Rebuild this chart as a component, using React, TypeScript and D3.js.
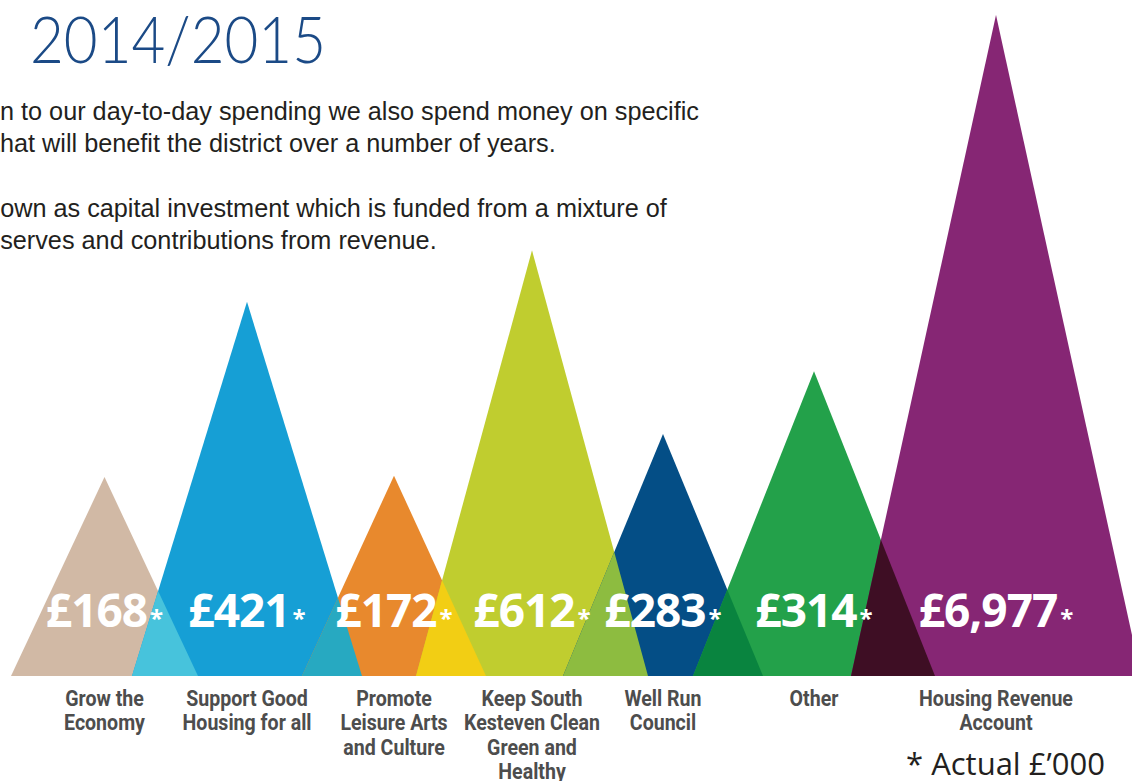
import React, { useEffect, useRef } from 'react';
import * as d3 from 'd3';

// category labels (one entry per line)
const categories = [
  ['Grow the', 'Economy'],
  ['Support Good', 'Housing for all'],
  ['Promote', 'Leisure Arts', 'and Culture'],
  ['Keep South', 'Kesteven Clean', 'Green and', 'Healthy'],
  ['Well Run', 'Council'],
  ['Other'],
  ['Housing Revenue', 'Account'],
];
// capital spend, actual £'000
const values = [168, 421, 172, 612, 283, 314, 6977];
// drawn peak height of each triangle, % of the tallest
const peakHeights = [30.1, 56.6, 30.3, 64.4, 36.6, 46.1, 100];
// base width of each triangle and how much neighbours overlap (chart units)
const baseWidths = [187, 230, 184, 232, 200, 242, 290];
const overlaps = [66, 60, 70, 85, 70, 84];

const introParas = [
  [
    'In addition to our day-to-day spending we also spend money on specific',
    'projects that will benefit the district over a number of years.',
  ],
  [
    'This is known as capital investment which is funded from a mixture of',
    'grants, reserves and contributions from revenue.',
  ],
];

const colors = ['#d1b9a5', '#169fd5', '#e8892d', '#c0cd2f', '#044e86', '#23a14a', '#862674'];
const overlapColors = ['#47c3dc', '#27a9c1', '#f2ce14', '#8dbc40', '#09843f', '#3e0e24'];

const W = 1132;
const H = 781;

const Chart = () => {
  const ref = useRef<SVGSVGElement>(null);

  useEffect(() => {
    const svg = d3.select(ref.current);
    svg.selectAll('*').remove();

    // lay the bases out end to end, minus the overlaps
    const starts: number[] = [];
    let acc = 0;
    baseWidths.forEach((w, i) => {
      starts.push(acc);
      acc += w - (overlaps[i] || 0);
    });
    const total = acc;

    const x = d3.scaleLinear().domain([0, total]).range([11, 1141]);
    const y = d3.scaleLinear().domain([0, 100]).range([676, 15]);
    const base = y(0);

    const tris = values.map((v, i) => {
      const x0 = x(starts[i]);
      const x1 = x(starts[i] + baseWidths[i]);
      return { v, x0, x1, cx: (x0 + x1) / 2, top: y(peakHeights[i]) };
    });

    // title + intro text
    svg.append('text')
      .attr('x', 30)
      .attr('y', 63)
      .attr('textLength', 296)
      .attr('lengthAdjust', 'spacingAndGlyphs')
      .style('font-family', 'Lato, sans-serif')
      .style('font-weight', 300)
      .style('font-size', '66px')
      .attr('fill', '#1b4a86')
      .text('2014/2015');

    // paragraphs run off the left edge, as in the original page crop
    const paraX = [-102.5, -106.5];
    const paraY = [120, 217];
    introParas.forEach((lines, p) => {
      svg.append('g')
        .selectAll('text')
        .data(lines)
        .enter().append('text')
        .attr('x', paraX[p])
        .attr('y', (d, i) => paraY[p] + i * 32)
        .style('font-family', '"Liberation Sans", Arial, sans-serif')
        .style('font-size', '25.25px')
        .attr('fill', '#231f20')
        .text(d => d);
    });

    const line = d3.line();

    svg.append('g')
      .selectAll('path')
      .data(tris)
      .enter().append('path')
      .attr('d', d => line([[d.x0, base], [d.cx, d.top], [d.x1, base]]) + 'Z')
      .attr('fill', (d, i) => colors[i]);

    // where neighbouring triangles overlap
    const overlapTris = tris.slice(0, -1).map((a, i) => {
      const b = tris[i + 1];
      const m1 = (base - a.top) / (a.x1 - a.cx);
      const m2 = (b.top - base) / (b.cx - b.x0);
      const px = (base - a.top + m1 * a.cx - m2 * b.x0) / (m1 - m2);
      const py = a.top + m1 * (px - a.cx);
      return [[b.x0, base], [px, py], [a.x1, base]] as [number, number][];
    });

    svg.append('g')
      .selectAll('path')
      .data(overlapTris)
      .enter().append('path')
      .attr('d', d => line(d) + 'Z')
      .attr('fill', (d, i) => overlapColors[i]);

    // value labels
    const vl = svg.append('g')
      .selectAll('text')
      .data(tris)
      .enter().append('text')
      .attr('x', d => d.cx)
      .attr('y', 627)
      .attr('text-anchor', 'middle')
      .attr('fill', '#fff')
      .style('font-family', '"Open Sans", sans-serif')
      .style('font-weight', 700);
    vl.append('tspan')
      .style('font-size', '46px')
      .style('letter-spacing', '-1px')
      .text(d => '£' + d3.format(',')(d.v));
    vl.append('tspan')
      .attr('dx', 3)
      .style('font-size', '24px')
      .text('*');

    // category labels, squeezed horizontally to look condensed
    const cl = svg.append('g')
      .selectAll('g')
      .data(tris)
      .enter().append('g')
      .attr('transform', d => `translate(${d.cx},0) scale(0.89,1)`)
      .append('text')
      .attr('text-anchor', 'middle')
      .attr('fill', '#4d4d4d')
      .style('font-family', 'Roboto, sans-serif')
      .style('font-weight', 700)
      .style('font-size', '22px');
    cl.selectAll('tspan')
      .data((d, i) => categories[i])
      .enter().append('tspan')
      .attr('x', 0)
      .attr('y', (d, j) => 706 + j * 24.5)
      .text(d => d);

    svg.append('text')
      .attr('x', 906)
      .attr('y', 775)
      .attr('fill', '#231f20')
      .style('font-family', '"Open Sans", sans-serif')
      .style('font-size', '31px')
      .text('* Actual £\u2019000');
  }, []);

  return (
    <svg
      ref={ref}
      width={W}
      height={H}
      style={{ position: 'absolute', left: 0, top: 0, background: '#fff' }}
    />
  );
};

export default function App() {
  return <Chart />;
}
